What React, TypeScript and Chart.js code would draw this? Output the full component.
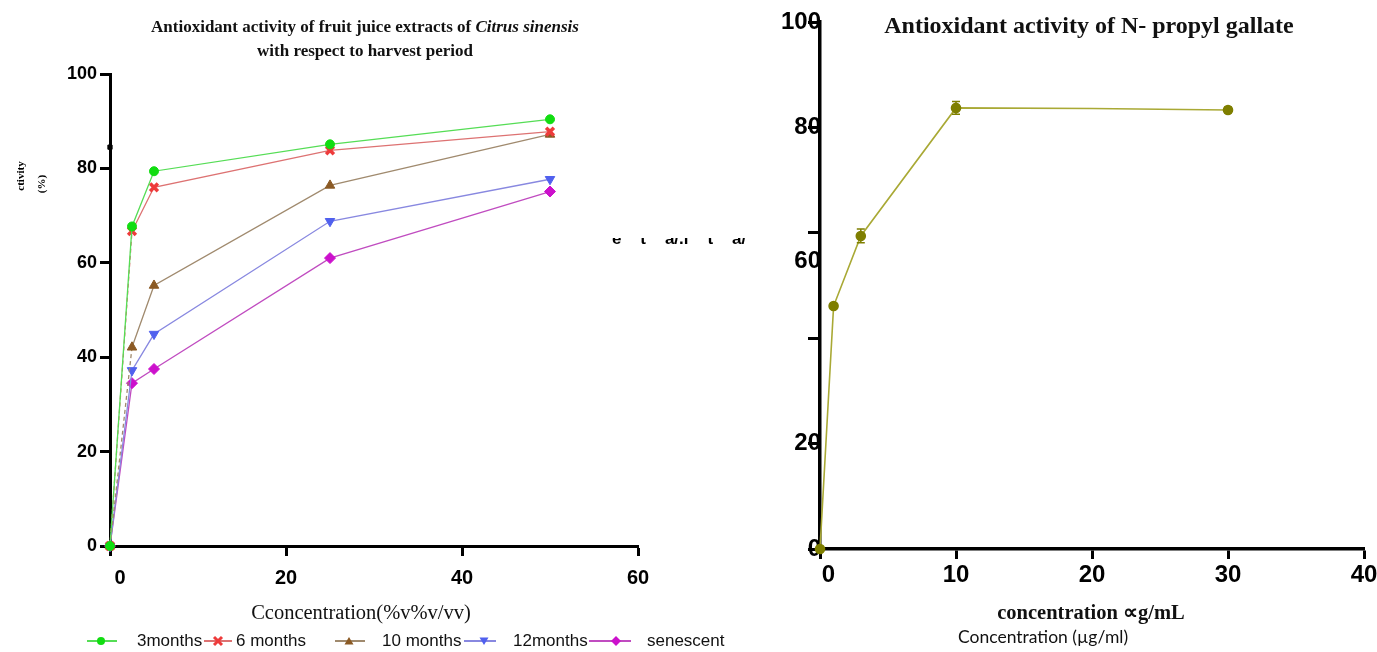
import React, { useEffect, useRef } from 'react';
import { Chart, registerables } from 'chart.js';
Chart.register(...registerables);

// ---------- data: left chart ----------
const harvestX = [0, 2.5, 5, 25, 50];
const threeMonths = [0, 67.7, 79.4, 85.1, 90.4];
const sixMonths = [0, 66.7, 76.0, 83.8, 87.8];
const tenMonths = [0, 42.1, 55.2, 76.4, 87.2];
const twelveMonths = [0, 37.2, 44.9, 68.8, 77.7];
const senescent = [0, 34.5, 37.5, 61.0, 75.1];
const seriesNames = ['3months', '6 months', '10 months', '12months', 'senescent'];
const leftXTicks = [0, 20, 40, 60];
const leftYTicks = [0, 20, 40, 60, 80, 100];
const axisMarkX = [0];
const axisMarkY = [84.5];

// ---------- data: right chart ----------
const gallateX = [0, 1, 3, 10, 20, 30];
const gallateY = [0, 46.1, 59.4, 83.7, 83.6, 83.3];
const gallateErr = [0, 0.4, 1.3, 1.2, 0, 0.5];
const gallateMarker = [1, 1, 1, 1, 0, 1];
const rightXTicks = [0, 10, 20, 30, 40];
const rightYTicks = [0, 20, 40, 60, 80, 100];

// ---------- styles ----------
const lineColors = ['#55dd55', '#dd7272', '#a08a6e', '#8888e0', '#c04cc0'];
const markColors = ['#11dd11', '#ee3b3b', '#8b5a24', '#5060ee', '#cc10cc'];
const markStyles = ['circle', 'crossRot', 'triangle', 'triangle', 'rectRot'];
const markRot = [0, 0, 0, 180, 0];
const olive = '#7f7f00';
const oliveLine = '#a9a935';

const sansBold = (size: number) => ({ family: 'Liberation Sans, Arial, sans-serif', size, weight: 'bold' as const });

function LeftChart() {
  const ref = useRef<HTMLCanvasElement>(null);
  useEffect(() => {
    const series = [threeMonths, sixMonths, tenMonths, twelveMonths, senescent];
    const datasets: any[] = series.map((arr, k) => ({
      label: seriesNames[k],
      data: harvestX.map((x, i) => ({ x, y: arr[i] })),
      borderColor: lineColors[k],
      borderWidth: 1.3,
      pointStyle: markStyles[k],
      pointRotation: markRot[k],
      pointRadius: k === 0 ? 4.5 : 5.5,
      pointBorderWidth: k === 1 ? 3.5 : 1,
      pointBackgroundColor: markColors[k],
      pointBorderColor: markColors[k],
      clip: false,
      segment: (k === 1 || k === 2) ? { borderDash: (c: any) => (c.p0DataIndex === 0 ? [4, 3] : undefined) } : undefined,
    }));
    datasets.push({
      label: 'mark',
      data: axisMarkX.map((x, i) => ({ x, y: axisMarkY[i] })),
      showLine: false,
      pointStyle: 'rect',
      pointRadius: 3,
      pointBackgroundColor: '#000',
      pointBorderColor: '#000',
      clip: false,
    });
    const axisCommon = {
      border: { display: true, width: 3, color: '#000' },
      grid: { display: true, drawOnChartArea: false, drawTicks: true, tickLength: 10, tickWidth: 3, tickColor: '#000' },
    };
    const chart = new Chart(ref.current!, {
      type: 'line',
      data: { datasets },
      options: {
        animation: false,
        responsive: false,
        layout: { padding: { top: 74, right: 62, left: 0, bottom: 0 } },
        plugins: { legend: { display: false }, tooltip: { enabled: false }, title: { display: false } },
        scales: {
          x: {
            type: 'linear', min: 0, max: 60,
            afterBuildTicks: (s: any) => { s.ticks = leftXTicks.map((v) => ({ value: v })); },
            afterFit: (s: any) => { s.height = 106; },
            ...axisCommon,
            ticks: {
              font: sansBold(20), color: '#000', padding: 10, maxRotation: 0,
              callback: (v: any) => (v === 0 ? '\u2002\u20020' : String(v)),
            },
          },
          y: {
            type: 'linear', min: 0, max: 100,
            afterBuildTicks: (s: any) => { s.ticks = leftYTicks.map((v) => ({ value: v })); },
            afterFit: (s: any) => { s.width = 110; },
            ...axisCommon,
            ticks: { font: sansBold(18), color: '#000', padding: 3 },
          },
        },
      } as any,
    });
    return () => chart.destroy();
  }, []);
  return <canvas ref={ref} width={700} height={652} style={{ position: 'absolute', left: 0, top: 0, width: 700, height: 652 }} />;
}

const errorBarPlugin = {
  id: 'errorBars',
  afterDatasetsDraw(chart: any, _args: any, opts: any) {
    const errs: number[] = opts.errors || [];
    const meta = chart.getDatasetMeta(0);
    const ys = chart.scales.y;
    const ctx = chart.ctx;
    ctx.save();
    ctx.strokeStyle = opts.color;
    ctx.lineWidth = 1.5;
    meta.data.forEach((pt: any, i: number) => {
      const e = errs[i];
      if (!e) return;
      const v = (chart.data.datasets[0].data[i] as any).y;
      const t = ys.getPixelForValue(v + e);
      const b = ys.getPixelForValue(v - e);
      ctx.beginPath();
      ctx.moveTo(pt.x, t); ctx.lineTo(pt.x, b);
      ctx.moveTo(pt.x - 4, t); ctx.lineTo(pt.x + 4, t);
      ctx.moveTo(pt.x - 4, b); ctx.lineTo(pt.x + 4, b);
      ctx.stroke();
    });
    ctx.restore();
  },
};

function RightChart() {
  const ref = useRef<HTMLCanvasElement>(null);
  useEffect(() => {
    const axisCommon = {
      border: { display: true, width: 3.5, color: '#000' },
      grid: { display: true, drawOnChartArea: false, drawTicks: true, tickLength: 12, tickWidth: 3, tickColor: '#000' },
    };
    const chart = new Chart(ref.current!, {
      type: 'line',
      data: {
        datasets: [{
          label: 'N-propyl gallate',
          data: gallateX.map((x, i) => ({ x, y: gallateY[i] })),
          borderColor: oliveLine,
          borderWidth: 1.6,
          pointStyle: 'circle',
          pointRadius: gallateMarker.map((m) => (m ? 4.5 : 0)),
          pointBackgroundColor: olive,
          pointBorderColor: olive,
          clip: false,
        }],
      },
      options: {
        animation: false,
        responsive: false,
        layout: { padding: { top: 22, right: 36, left: 0, bottom: 0 } },
        plugins: { legend: { display: false }, tooltip: { enabled: false }, errorBars: { errors: gallateErr, color: olive } },
        scales: {
          x: {
            type: 'linear', min: 0, max: 40,
            afterBuildTicks: (s: any) => { s.ticks = rightXTicks.map((v) => ({ value: v })); },
            afterFit: (s: any) => { s.height = 103; },
            ...axisCommon,
            grid: { ...axisCommon.grid, tickLength: 10 },
            ticks: {
              font: sansBold(24), color: '#000', padding: 2, maxRotation: 0,
              callback: (v: any) => (v === 0 ? '\u2002\u20090' : String(v)),
            },
          },
          y: {
            type: 'linear', min: 0, max: 100,
            afterBuildTicks: (s: any) => { s.ticks = rightYTicks.map((v) => ({ value: v })); },
            afterFit: (s: any) => { s.width = 120; },
            ...axisCommon,
            ticks: {
              font: sansBold(24), color: '#000', padding: -13,
              callback: (v: any) => (v === 40 ? '' : v === 60 ? ['', '', '60'] : String(v)),
            },
          },
        },
      } as any,
      plugins: [errorBarPlugin as any],
    });
    return () => chart.destroy();
  }, []);
  return <canvas ref={ref} width={700} height={652} style={{ position: 'absolute', left: 700, top: 0, width: 700, height: 652 }} />;
}

const legendLineX = [87, 204, 335, 464, 589];
const legendLineW = [30, 28, 30, 32, 42];
const legendMarkX = [101, 218, 349, 484, 616];
const legendTextX = [137, 236, 382, 513, 647];

function Marker({ k, cx, cy }: { k: number; cx: number; cy: number }) {
  const c = markColors[k];
  let shape: React.ReactNode = null;
  if (k === 0) shape = <circle cx={6} cy={6} r={4} fill={c} />;
  if (k === 1) shape = <g stroke={c} strokeWidth={3}><line x1={2} y1={2} x2={10} y2={10} /><line x1={10} y1={2} x2={2} y2={10} /></g>;
  if (k === 2) shape = <polygon points="6,2 10.5,9.5 1.5,9.5" fill={c} />;
  if (k === 3) shape = <polygon points="6,10 10.5,2.5 1.5,2.5" fill={c} />;
  if (k === 4) shape = <polygon points="6,1 11,6 6,11 1,6" fill={c} />;
  return <svg width={12} height={12} style={{ position: 'absolute', left: cx - 6, top: cy - 6 }}>{shape}</svg>;
}

function Legend() {
  const cy = 641;
  return (
    <>
      {seriesNames.map((name, k) => (
        <React.Fragment key={name}>
          <div style={{ position: 'absolute', left: legendLineX[k], top: cy - 1, width: legendLineW[k], height: 1.5, background: lineColors[k] }} />
          <Marker k={k} cx={legendMarkX[k]} cy={cy} />
          <div style={{ position: 'absolute', left: legendTextX[k], top: cy - 11, lineHeight: '22px', fontSize: 17, fontFamily: 'Liberation Sans, Arial, sans-serif', color: '#111', whiteSpace: 'nowrap' }}>{name}</div>
        </React.Fragment>
      ))}
    </>
  );
}

const serif = 'Liberation Serif, Times New Roman, serif';

export default function App() {
  return (
    <div style={{ position: 'absolute', left: 0, top: 0, width: 1377, height: 652, overflow: 'hidden', background: '#fff' }}>
      <LeftChart />
      <RightChart />
      <div style={{ position: 'absolute', left: 65, top: 15, width: 600, textAlign: 'center', fontFamily: serif, fontWeight: 'bold', fontSize: 17, lineHeight: '24px', color: '#111' }}>
        Antioxidant activity of fruit juice extracts of <i>Citrus sinensis</i><br />with respect to harvest period
      </div>
      <div style={{ position: 'absolute', left: 0, top: 164, width: 40, height: 24, transform: 'rotate(-90deg)', textAlign: 'center', fontFamily: serif, fontWeight: 'bold', fontSize: 11, lineHeight: '24px' }}>ctivity</div>
      <div style={{ position: 'absolute', left: 21, top: 172, width: 40, height: 24, transform: 'rotate(-90deg)', textAlign: 'center', fontFamily: serif, fontWeight: 'bold', fontSize: 11, lineHeight: '24px' }}>(%)</div>
      <div style={{ position: 'absolute', left: 161, top: 600, width: 400, textAlign: 'center', fontFamily: serif, fontSize: 20.5, lineHeight: '24px', color: '#111' }}>Cconcentration(%v%v/vv)</div>
      <Legend />
      <div style={{ position: 'absolute', left: 612, top: 238, width: 160, height: 11, overflow: 'hidden' }}>
        <div style={{ position: 'absolute', left: 0, top: -9, whiteSpace: 'pre', fontFamily: 'Liberation Sans, Arial, sans-serif', fontWeight: 'bold', fontSize: 17, lineHeight: '20px' }}>{'e    t    a/.i    t    a/'}</div>
      </div>
      <div style={{ position: 'absolute', left: 789, top: 11, width: 600, textAlign: 'center', fontFamily: serif, fontWeight: 'bold', fontSize: 24, lineHeight: '28px', color: '#111' }}>Antioxidant activity of N- propyl gallate</div>
      <div style={{ position: 'absolute', left: 891, top: 599, width: 400, textAlign: 'center', fontFamily: serif, fontWeight: 'bold', fontSize: 20.5, lineHeight: '26px', color: '#111' }}>concentration ∝g/mL</div>
      <div style={{ position: 'absolute', left: 958, top: 626, whiteSpace: 'nowrap', fontFamily: 'Lato, Open Sans, sans-serif', fontSize: 17.5, lineHeight: '22px', color: '#111' }}>Concentration (µg/ml)</div>
    </div>
  );
}
